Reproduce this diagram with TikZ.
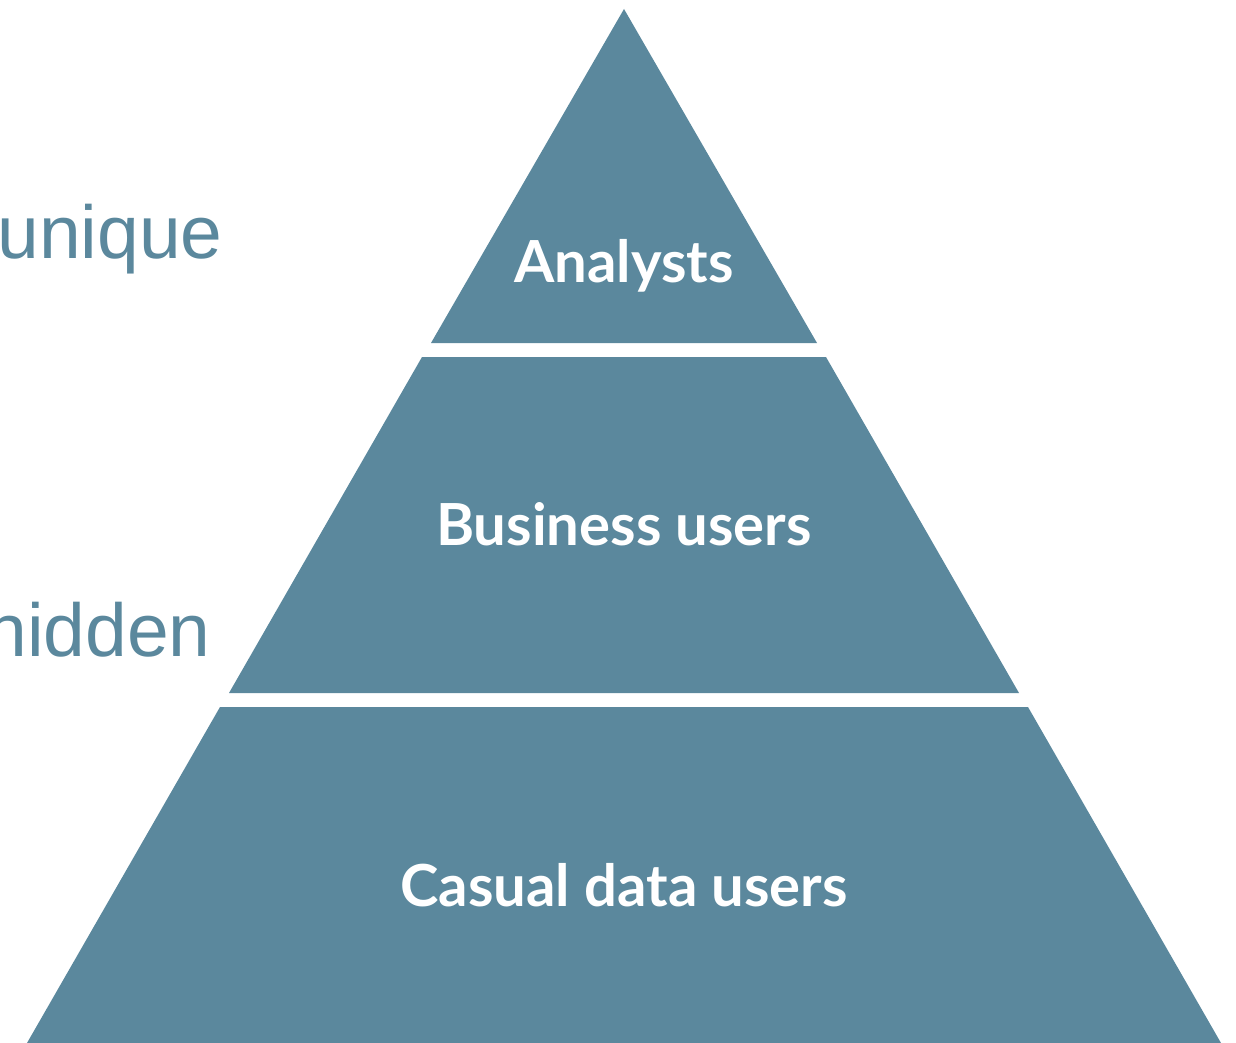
\documentclass[tikz,border=0pt]{standalone}
\usepackage{fontspec}
\setmainfont{Liberation Sans}
\newfontfamily\tierfont{Lato}
\definecolor{tierblue}{RGB}{91,136,157}

\begin{document}
\begin{tikzpicture}[x=0.5pt,y=-0.5pt,
    tierlabel/.style={text=white,inner sep=0pt,anchor=base,
      font=\tierfont\bfseries\fontsize{29}{34}\selectfont},
    sidelabel/.style={text=tierblue,inner sep=0pt,anchor=base east,
      font=\fontsize{37.5}{44}\selectfont}]
    \useasboundingbox (0,0) rectangle (1236,1043);
    \clip (0,0) rectangle (1236,1043);

    % the three tiers
    \fill[tierblue] (624,9) -- (817,343) -- (431,343) -- cycle;
    \fill[tierblue] (422,357) -- (826,357) -- (1019,693) -- (229,693) -- cycle;
    \fill[tierblue] (220,707) -- (1028,707) -- (1221,1043) -- (27,1043) -- cycle;

    \node[tierlabel] (analysts) at (624,282) {Analysts};
    \node[tierlabel] (business) at (624,545) {Business users};
    \node[tierlabel] (casual) at (624,906) {Casual data users};

    \node[sidelabel] (unique) at (223,258) {unique};
    \node[sidelabel] (hidden) at (211,656) {hidden};
\end{tikzpicture}
\end{document}
